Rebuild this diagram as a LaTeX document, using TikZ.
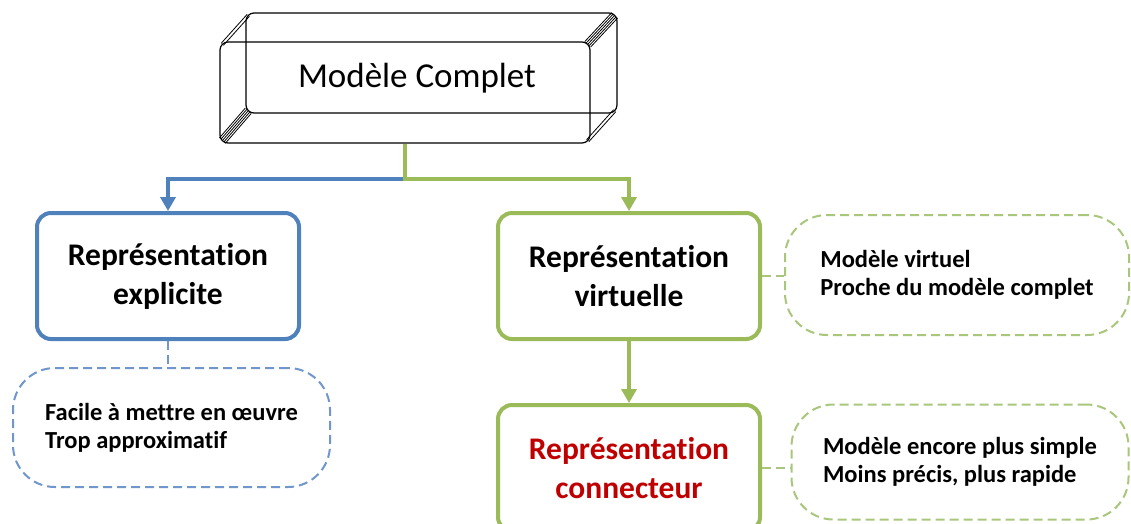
\documentclass[tikz,border=0pt]{standalone}
\usepackage{fontspec}
\setmainfont{Carlito}[Ligatures=NoCommon]
\usetikzlibrary{calc,arrows.meta,positioning}
\definecolor{bluec}{HTML}{4F81BD}
\definecolor{greenc}{HTML}{9BBB59}
\definecolor{redc}{HTML}{C00000}
\definecolor{dbluec}{HTML}{7096CC}
\definecolor{dgreenc}{HTML}{A9C77C}
\tikzset{
  bx/.style={draw=#1,line width=4pt,rounded corners=14pt,fill=white,minimum width=262pt,minimum height=126pt,align=center,font=\fontsize{31.5}{39}\selectfont\bfseries},
  nt/.style={draw=#1,line width=2pt,dash pattern=on 9pt off 5pt,rounded corners=42pt,align=left,inner sep=0pt,font=\fontsize{24.5}{28}\selectfont\bfseries},
  ar/.style={-{Triangle[width=15pt,length=14pt]},line width=4pt,#1},
  dl/.style={#1,line width=2pt,dash pattern=on 9pt off 5pt}
}
\newcommand{\bvl}[5]{% strip between the two faces of the top box
  \foreach \s in {#5}{\draw[line width=0.8pt] ($(#1,#2)+(0.74*\s,0.67*\s)$)--($(#3,#4)+(0.74*\s,0.67*\s)$);}}

\begin{document}
\begin{tikzpicture}[x=1pt,y=-1pt]
\useasboundingbox (0,0) rectangle (1131,523);
\clip (0,0) rectangle (1131,523);
\fill[white] (0,0) rectangle (1131,523);
% top box
\draw[line width=1.2pt,rounded corners=8pt] (246,13) rectangle (617,113);
\node[draw,line width=1.2pt,rounded corners=8pt,minimum width=370pt,minimum height=101pt] (mc) at (405,92.5) {};
\bvl{248.3}{15.3}{222.3}{44.3}{-1.5,1.5}
\bvl{614.7}{15.3}{587.7}{44.3}{-4,-2,0,2,4}
\bvl{248.3}{110.7}{222.3}{140.7}{-4,-2,0,2,4}
\bvl{614.7}{110.7}{587.7}{140.7}{-1.5,1.5}
\node[font=\fontsize{35}{40}\selectfont] (mct) at (417,78) {Modèle Complet};
% boxes
\node[bx=bluec] (expl) at (168,276) {Représentation\\explicite};
\node[bx=greenc] (virt) at (629,276) {Représentation\\virtuelle};
\node[bx=greenc,text=redc] (conn) at (629,468) {Représentation\\connecteur};
% notes
\node[nt=dbluec,minimum width=317pt,minimum height=119pt] (n1) at (171.5,427.5) {Facile à mettre en œuvre\\Trop approximatif};
\node[nt=dgreenc,minimum width=344pt,minimum height=120pt] (n2) at (957,275) {Modèle virtuel\\Proche du modèle complet};
\node[nt=dgreenc,minimum width=337pt,minimum height=115pt] (n3) at (960,462) {Modèle encore plus simple\\Moins précis, plus rapide};
% links
\coordinate (fork) at ($(mc.south)+(0,35)$);
\draw[ar=bluec] (fork) -| (expl.north);
\draw[ar=greenc] (mc.south) -- (fork) -| (virt.north);
\draw[ar=greenc] (virt.south) -- (conn.north);
\draw[dl=dbluec] (expl.south) -- (expl.south |- n1.north);
\draw[dl=dgreenc] (virt.east) -- (virt.east -| n2.west);
\draw[dl=dgreenc] (conn.east) -- (conn.east -| n3.west);
\end{tikzpicture}
\end{document}
